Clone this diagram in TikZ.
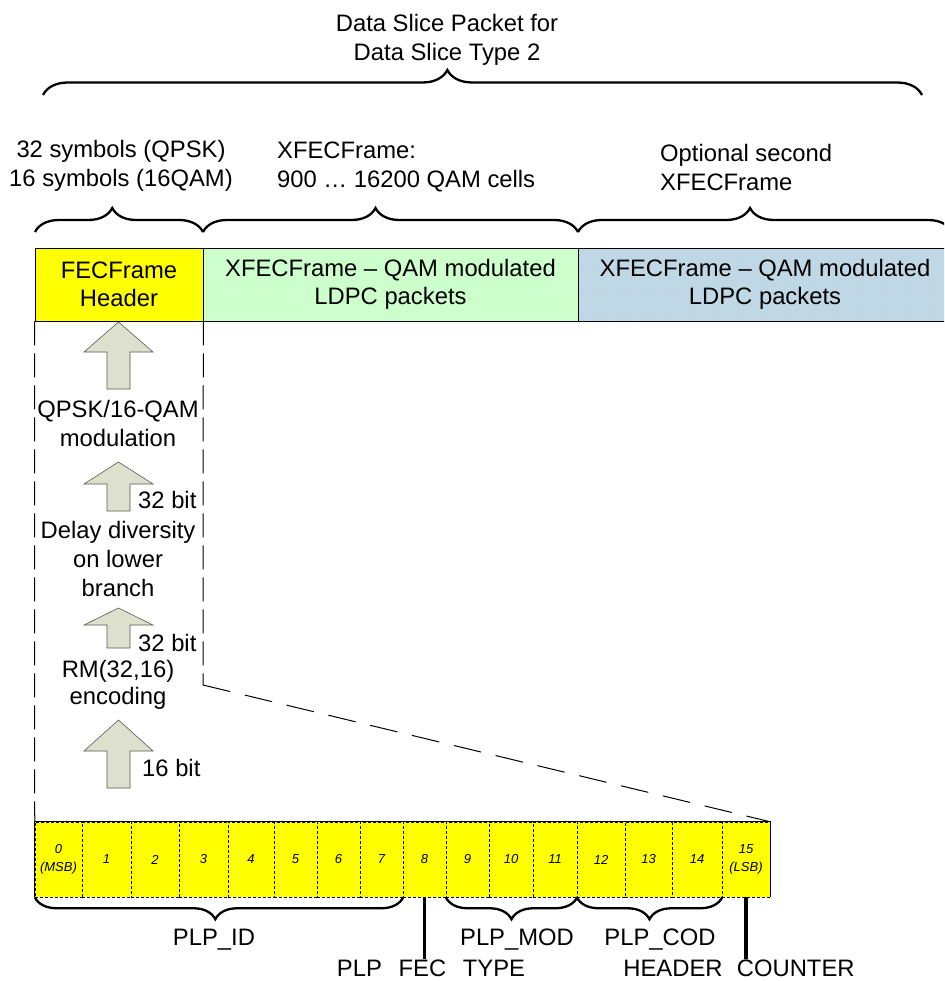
\documentclass[tikz,border=0pt]{standalone}
\usepackage{fontspec}
\setmainfont{Liberation Sans}
\usetikzlibrary{decorations.pathreplacing,patterns}
\definecolor{hdryellow}{RGB}{255,255,0}
\definecolor{ldpcgreen}{RGB}{204,255,204}
\definecolor{ldpcblue}{RGB}{192,214,232}
\definecolor{arrowfill}{RGB}{221,224,204}
\definecolor{arrowedge}{RGB}{90,90,80}
\tikzset{
  lbl/.style={font=\fontsize{23.8}{29}\selectfont,align=center,inner sep=0pt},
  brc/.style={decorate,decoration={brace,amplitude=#1},line width=2.3pt},
  framebox/.style={draw,line width=0.6pt,minimum height=73pt,inner sep=0pt,
    font=\fontsize{23.8}{28}\selectfont,align=center},
  bitcell/.style={draw,densely dashed,line width=0.5pt,fill=hdryellow,
    minimum height=75pt,inner sep=0pt,font=\itshape\fontsize{13}{18}\selectfont,align=center},
  blkarrow/.style={fill=arrowfill,draw=arrowedge,line width=0.6pt},
  longdash/.style={line width=1pt,dash pattern=on 24pt off 8pt},
  stem/.style={line width=3.5pt}
}
\begin{document}
\begin{tikzpicture}[x=1pt,y=-1pt]
\useasboundingbox (0,0) rectangle (944,981);
\clip (0,0) rectangle (944,981);
% title and the packet brace
\node[lbl] (title) at (447,40) {Data Slice Packet for\\Data Slice Type 2};
\draw[brc=25pt,decoration={aspect=0.46}] (43,95) -- (922,95);
% part labels
\node[lbl] (hdrlen) at (121,166) {32 symbols (QPSK)\\16 symbols (16QAM)};
\node[lbl,anchor=west,align=left] (xfeclen) at (277,167) {XFECFrame:\\900 … 16200 QAM cells};
\node[lbl,anchor=west,align=left] (optlen) at (660,167) {Optional second\\XFECFrame};
\draw[brc=24pt,decoration={aspect=0.46}] (35,232) -- (203,232);
\draw[brc=24pt,decoration={aspect=0.46}] (203,232) -- (578,232);
\draw[brc=24pt,decoration={aspect=0.46}] (578,232) -- (952,232);
% frame row
\node[framebox,fill=hdryellow,minimum width=168pt] (hdr) at (119,284.5) {FECFrame\\Header};
\node[framebox,fill=ldpcgreen,minimum width=375pt] (xfec) at (390.5,284.5) {XFECFrame – QAM modulated\\LDPC packets};
\node[framebox,preaction={fill=ldpcblue},pattern=dots,pattern color=white!75!green,
  minimum width=374pt] (xfecopt) at (765,284.5) {};
\node[lbl,font=\fontsize{23.8}{28}\selectfont] at (xfecopt.center) {XFECFrame – QAM modulated\\LDPC packets};
% header coding chain
\foreach \tip/\base/\bot in {322/352/389,462/484/511,608/625/648,720/751/788}
  \draw[blkarrow] (107,\bot) -- (107,\base) -- (84,\base) -- (118.5,\tip)
    -- (153,\base) -- (130,\base) -- (130,\bot) -- cycle;
\node[lbl] (modul) at (118,423.5) {QPSK/16-QAM\\modulation};
\node[lbl,anchor=west] (bits32a) at (138,500) {32 bit};
\node[lbl] (delay) at (118,559) {Delay diversity\\on lower\\branch};
\node[lbl,anchor=west] (bits32b) at (138,643) {32 bit};
\node[lbl,font=\fontsize{23.8}{27}\selectfont] (rmenc) at (118,685) {RM(32,16)\\encoding};
\node[lbl,anchor=west] (bits16) at (142,768) {16 bit};
% header bits
\foreach \a/\b/\t [count=\i from 0] in {35/82/{0\\(MSB)},82/131/1,131/179/2,179/228/3,
    228/274/4,274/317/5,317/360/6,360/403/7,403/446/8,446/489/9,489/533/10,
    533/577/11,577/625/12,625/672/13,672/722/14,722/770/{15\\(LSB)}}
  \node[bitcell,minimum width={(\b-\a)*1pt}] (b\i) at ({(\a+\b)/2},859.5) {\t};
\draw[line width=0.6pt] (b0.south west) -- (b0.north west) -- (b15.north east) -- (b15.south east);
% zoom lines
\coordinate (zoomend) at (203,685);
\draw[longdash] (hdr.south west) -- (b0.north west);
\draw[longdash] (hdr.south east) -- (zoomend);
\draw[longdash,dash pattern=on 28pt off 15pt] (zoomend) -- (b15.north east);
% field braces and labels
\draw[brc=22pt,decoration={aspect=0.51}] (b7.south east) -- (b0.south west);
\draw[brc=22pt,decoration={aspect=0.5}] (b11.south east) -- (b9.south west);
\draw[brc=22pt,decoration={aspect=0.5}] (b14.south east) -- (b12.south west);
\node[lbl] (plpid) at (214,940) {PLP\_ID};
\node[lbl] (plpmod) at (517,940) {PLP\_MOD};
\node[lbl] (plpcod) at (660,940) {PLP\_COD};
\node[lbl] (fectype) at (431,968) {PLP\hspace{0.7em}FEC\hspace{0.7em}TYPE};
\node[lbl] (hdrcnt) at (739,968) {HEADER\hspace{0.6em}COUNTER};
\draw[stem] (b8.south) -- (b8.south |- fectype.north);
\draw[stem] (b15.south) -- (b15.south |- hdrcnt.north);
\end{tikzpicture}
\end{document}
